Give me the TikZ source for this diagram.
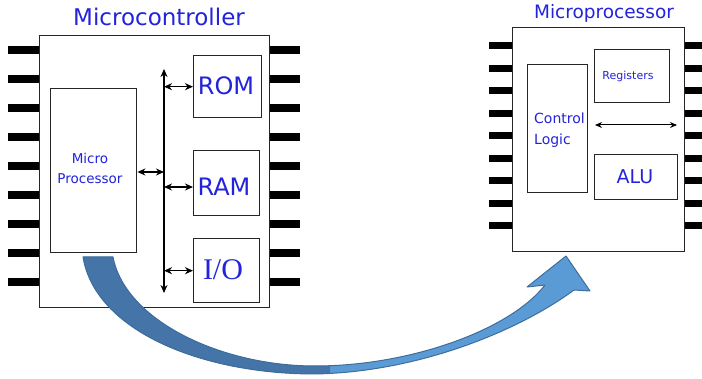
\documentclass[tikz,border=0pt]{standalone}
\usepackage{fontspec}
\setmainfont{DejaVu Sans}
\newfontfamily\serifI{Liberation Serif}
\usetikzlibrary{arrows.meta}
\definecolor{txtblue}{RGB}{35,35,220}
\definecolor{arrdark}{RGB}{68,116,168}
\definecolor{arrlight}{RGB}{91,155,213}
\definecolor{arredge}{RGB}{62,108,155}
\begin{document}
\begin{tikzpicture}[x=1pt,y=-1pt,
  box/.style={draw=black!85, fill=white, line width=1.4pt, inner sep=0pt, anchor=north west},
  lbl/.style={text=txtblue, inner sep=0pt},
  bus/.style={line width=1.4pt, {Stealth[length=8pt,width=7pt]}-{Stealth[length=8pt,width=7pt]}},
  thinbus/.style={line width=1pt, {Stealth[length=7pt,width=6pt]}-{Stealth[length=7pt,width=6pt]}}
]
\useasboundingbox (0,0) rectangle (702,379);
% ---------- Microcontroller ----------
\foreach \k in {0,...,8} {
  \fill (8,50+29*\k-4) rectangle (39,50+29*\k+4);
  \fill (269,50+29*\k-4) rectangle (300,50+29*\k+4);
}
\node[box, minimum width=230pt, minimum height=272pt] (mc) at (39,35) {};
\node[lbl, font=\fontsize{23}{26}\selectfont] (mctitle) at (159,17) {Microcontroller};
\node[box, minimum width=86pt, minimum height=164pt] (mp) at (50,88) {};
\node[lbl, font=\fontsize{13.5}{20}\selectfont, align=center] (mptext) at (90,168) {Micro\\Processor};
\node[box, minimum width=68pt, minimum height=62pt] (rom) at (193,55) {};
\node[lbl, font=\fontsize{24}{26}\selectfont] (romtext) at (226,86) {ROM};
\node[box, minimum width=66pt, minimum height=65pt] (ram) at (193,150) {};
\node[lbl, font=\fontsize{24}{26}\selectfont] (ramtext) at (224,187) {RAM};
\node[box, minimum width=66pt, minimum height=64pt] (io) at (193,238) {};
\node[lbl, font=\serifI\fontsize{30}{32}\selectfont] (iotext) at (223,270) {I/O};
\coordinate (bustop) at (164,69);
\coordinate (busbot) at (164,293);
\draw[bus] (bustop) -- (busbot);
\draw[bus] (mp.east |- 0,172) -- (bustop |- 0,172);
\draw[bus] (bustop |- rom.west) -- (rom.west);
\draw[bus] (bustop |- 0,187) -- (ram.west |- 0,187);
\draw[bus] (bustop |- io.west) -- (io.west);
% ---------- Microprocessor ----------
\foreach \k in {0,...,8} {
  \fill (489,46+22.5*\k-3.5) rectangle (512,46+22.5*\k+3.5);
  \fill (684,46+22.5*\k-3.5) rectangle (702,46+22.5*\k+3.5);
}
\node[box, minimum width=172pt, minimum height=224pt] (up) at (512,27) {};
\node[lbl, font=\fontsize{18.5}{22}\selectfont] (uptitle) at (604,13) {Microprocessor};
\node[box, line width=1.2pt, minimum width=60pt, minimum height=128pt] (cl) at (527,64) {};
\node[lbl, font=\fontsize{14}{21}\selectfont, align=left, anchor=west] (cltext) at (534,130) {Control\\Logic};
\node[box, line width=1.2pt, minimum width=75pt, minimum height=53pt] (reg) at (594,49) {};
\node[lbl, font=\fontsize{11}{13}\selectfont] (regtext) at (628,76) {Registers};
\node[box, line width=1.2pt, minimum width=83pt, minimum height=45pt] (alu) at (594,154) {};
\node[lbl, font=\fontsize{19}{22}\selectfont] (alutext) at (635,177) {ALU};
\coordinate (rega) at (595,125);
\coordinate (regb) at (677,125);
\draw[thinbus] (rega) -- (regb);
% ---------- curved arrow ----------
\def\arrowpath{(83,257) .. controls (95,330) and (200,374) .. (315,374)
  .. controls (420,372) and (520,330) .. (574,290)
  -- (590,291) -- (566,256) -- (527,287) -- (545,285)
  .. controls (510,330) and (410,366) .. (315,366)
  .. controls (220,366) and (125,320) .. (113,257) -- cycle}
\fill[arrlight] \arrowpath;
\begin{scope}
  \clip (0,250) rectangle (330,379);
  \fill[arrdark] \arrowpath;
\end{scope}
\draw[arredge, line width=1pt, line join=round] \arrowpath;
\end{tikzpicture}
\end{document}
